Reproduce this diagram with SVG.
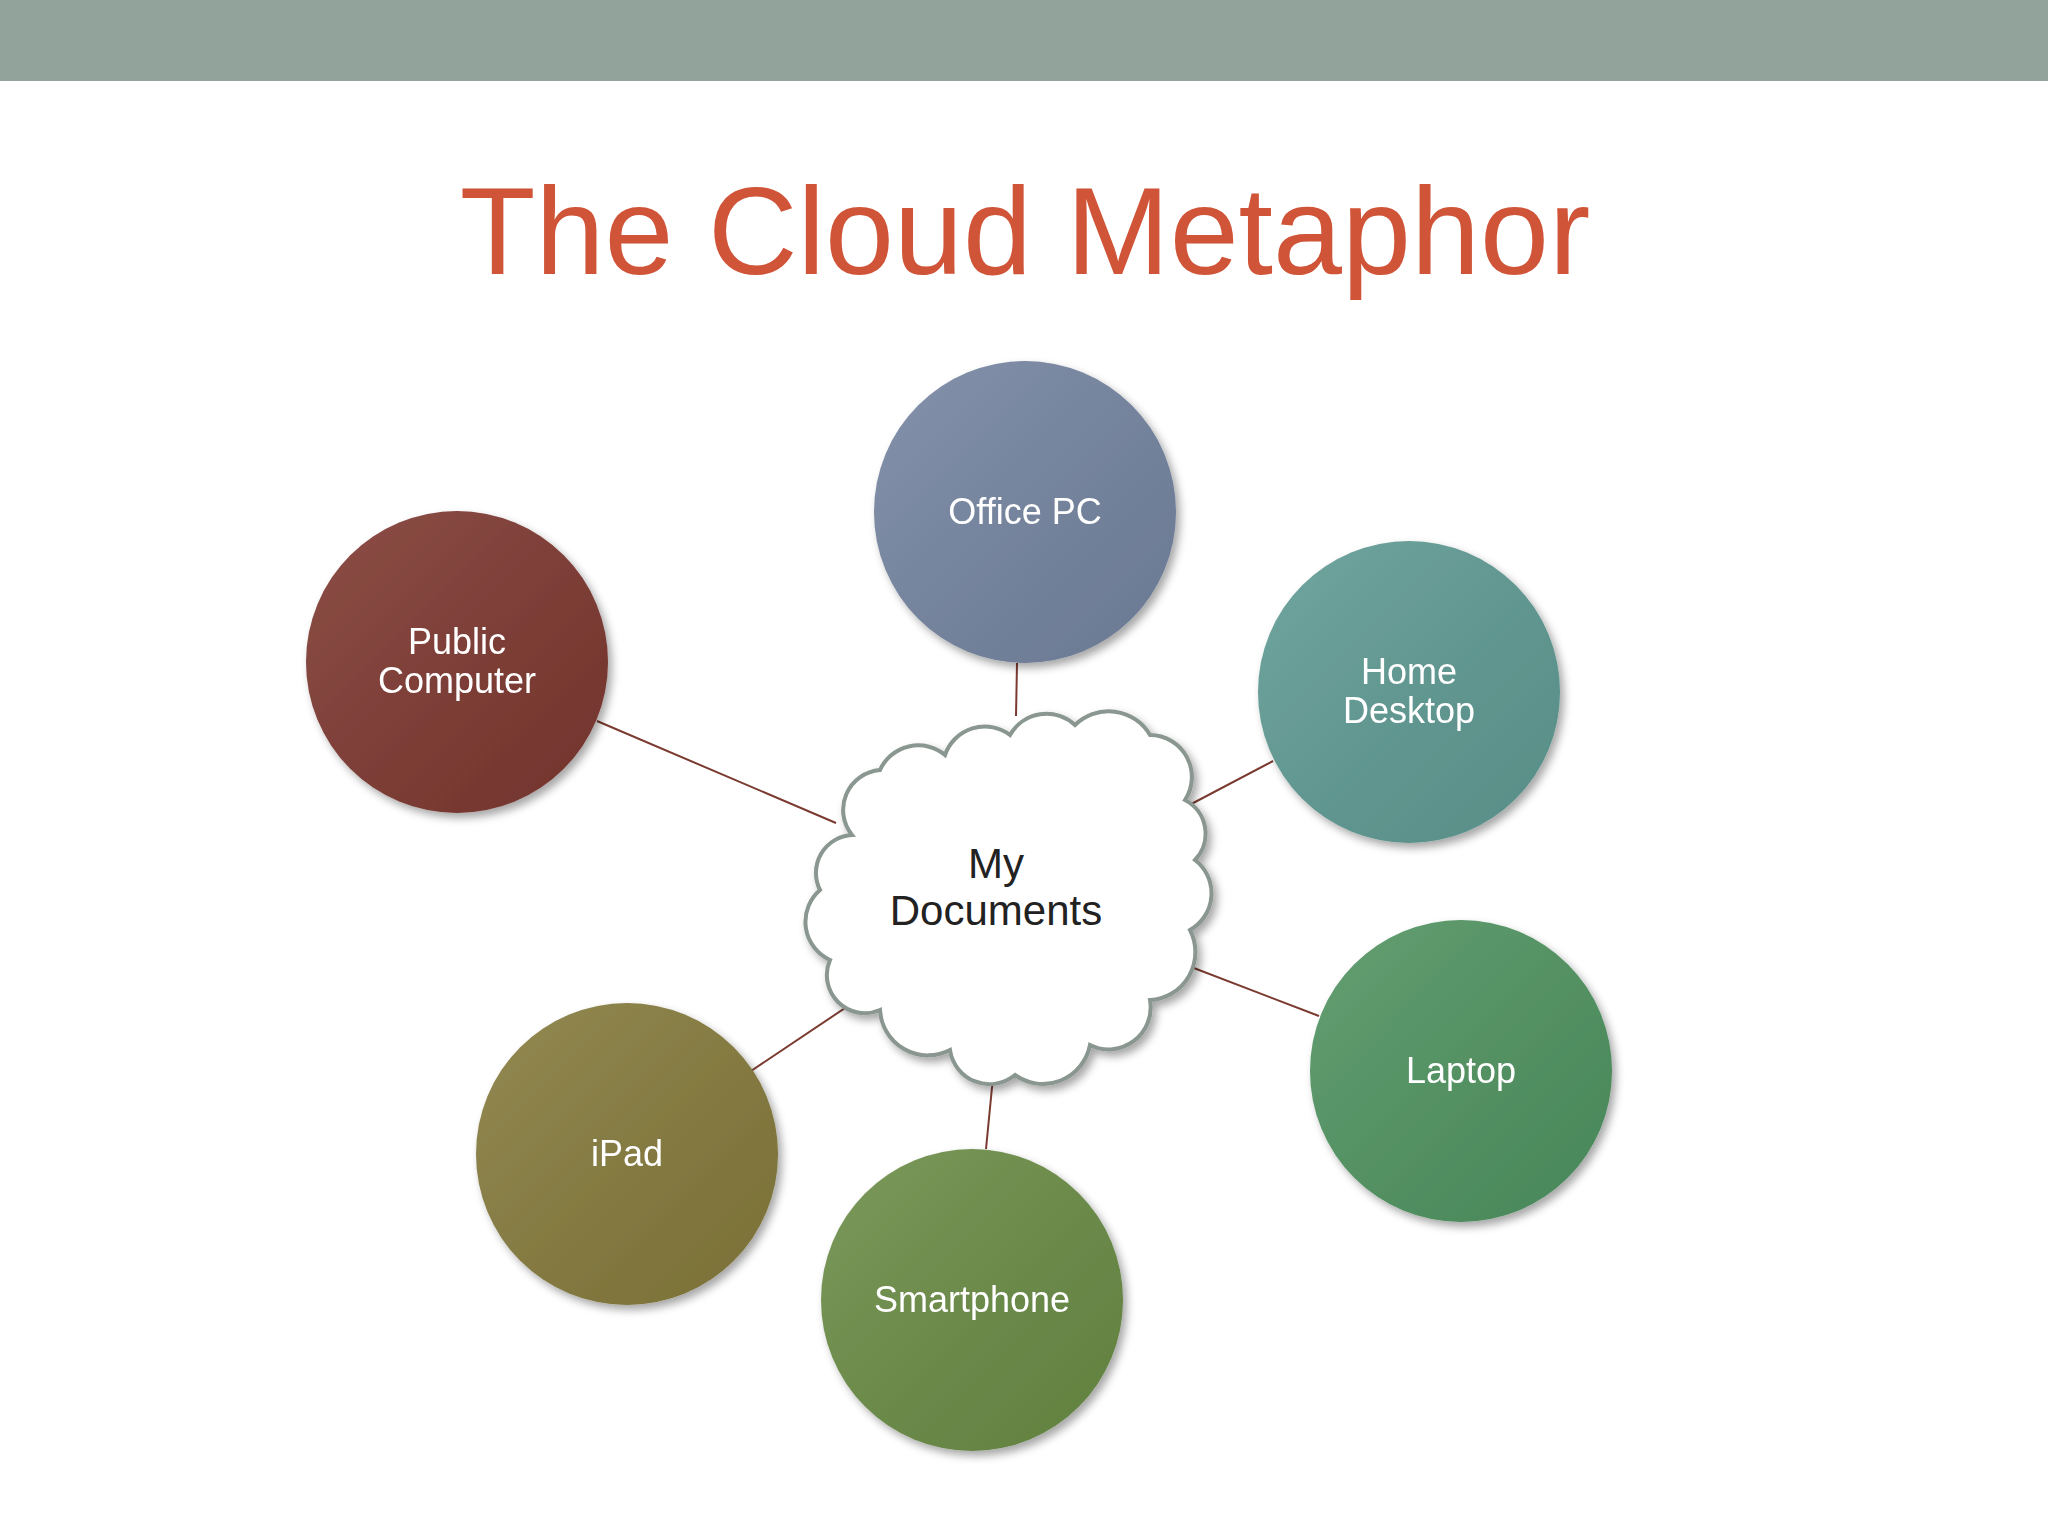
<svg xmlns="http://www.w3.org/2000/svg" width="2048" height="1536" viewBox="0 0 2048 1536">
<style>
.lbl{font-family:"Liberation Sans",Arial,sans-serif;font-size:36px;fill:#fff;text-anchor:middle}
.conn{stroke:#7a3a30;stroke-width:2}
.node{filter:url(#sh)}
</style>
<defs>
<filter id="sh" x="-20%" y="-20%" width="140%" height="140%"><feDropShadow dx="4" dy="5" stdDeviation="4" flood-opacity="0.35"/></filter>
<linearGradient id="hl" x1="0" y1="0" x2="1" y2="1"><stop offset="0" stop-color="#fff" stop-opacity="0.12"/><stop offset="1" stop-color="#000" stop-opacity="0.08"/></linearGradient>
</defs>
<rect width="2048" height="1536" fill="#fff"/>
<rect width="2048" height="81" fill="#91a39a"/>
<text x="1025" y="274" font-family="Liberation Sans,Arial,sans-serif" font-size="124" fill="#d05438" text-anchor="middle">The Cloud Metaphor</text>
<g id="connectors">
<line class="conn" x1="1017" y1="663" x2="1016" y2="716"/>
<line class="conn" x1="597" y1="721" x2="836" y2="823"/>
<line class="conn" x1="1273" y1="761" x2="1178" y2="811"/>
<line class="conn" x1="1319" y1="1016" x2="1186" y2="965"/>
<line class="conn" x1="751" y1="1071" x2="854" y2="1002"/>
<line class="conn" x1="986" y1="1149" x2="993" y2="1077"/>
</g>
<g id="cloud">
<path d="M852 835 A40 40 0 0 1 880 770 A42 42 0 0 1 945 755 A42 42 0 0 1 1010 735 A42 42 0 0 1 1075 725 A48 48 0 0 1 1150 735 A42 42 0 0 1 1185 800 A38 38 0 0 1 1195 860 A42 42 0 0 1 1190 930 A48 48 0 0 1 1150 1000 A42 42 0 0 1 1090 1045 A48 48 0 0 1 1015 1075 A40 40 0 0 1 950 1050 A48 48 0 0 1 880 1010 A38 38 0 0 1 830 960 A42 42 0 0 1 820 890 A38 38 0 0 1 852 835 Z" fill="#fff" stroke="#8a9690" stroke-width="4" filter="url(#sh)"/>
<text x="996" y="878" font-family="Liberation Sans,Arial,sans-serif" font-size="42" fill="#222" text-anchor="middle">My</text>
<text x="996" y="925" font-family="Liberation Sans,Arial,sans-serif" font-size="42" fill="#222" text-anchor="middle">Documents</text>
</g>
<g id="office" class="node"><circle cx="1025" cy="512" r="151" fill="#7484a0"/><circle cx="1025" cy="512" r="151" fill="url(#hl)"/><text class="lbl" x="1025" y="524">Office PC</text></g>
<g id="public" class="node"><circle cx="457" cy="662" r="151" fill="#7d3830"/><circle cx="457" cy="662" r="151" fill="url(#hl)"/><text class="lbl" x="457" y="654">Public</text><text class="lbl" x="457" y="693">Computer</text></g>
<g id="home" class="node"><circle cx="1409" cy="692" r="151" fill="#5f9a93"/><circle cx="1409" cy="692" r="151" fill="url(#hl)"/><text class="lbl" x="1409" y="684">Home</text><text class="lbl" x="1409" y="723">Desktop</text></g>
<g id="laptop" class="node"><circle cx="1461" cy="1071" r="151" fill="#4f9360"/><circle cx="1461" cy="1071" r="151" fill="url(#hl)"/><text class="lbl" x="1461" y="1083">Laptop</text></g>
<g id="ipad" class="node"><circle cx="627" cy="1154" r="151" fill="#857a3c"/><circle cx="627" cy="1154" r="151" fill="url(#hl)"/><text class="lbl" x="627" y="1166">iPad</text></g>
<g id="smartphone" class="node"><circle cx="972" cy="1300" r="151" fill="#6a8c45"/><circle cx="972" cy="1300" r="151" fill="url(#hl)"/><text class="lbl" x="972" y="1312">Smartphone</text></g>
</svg>
